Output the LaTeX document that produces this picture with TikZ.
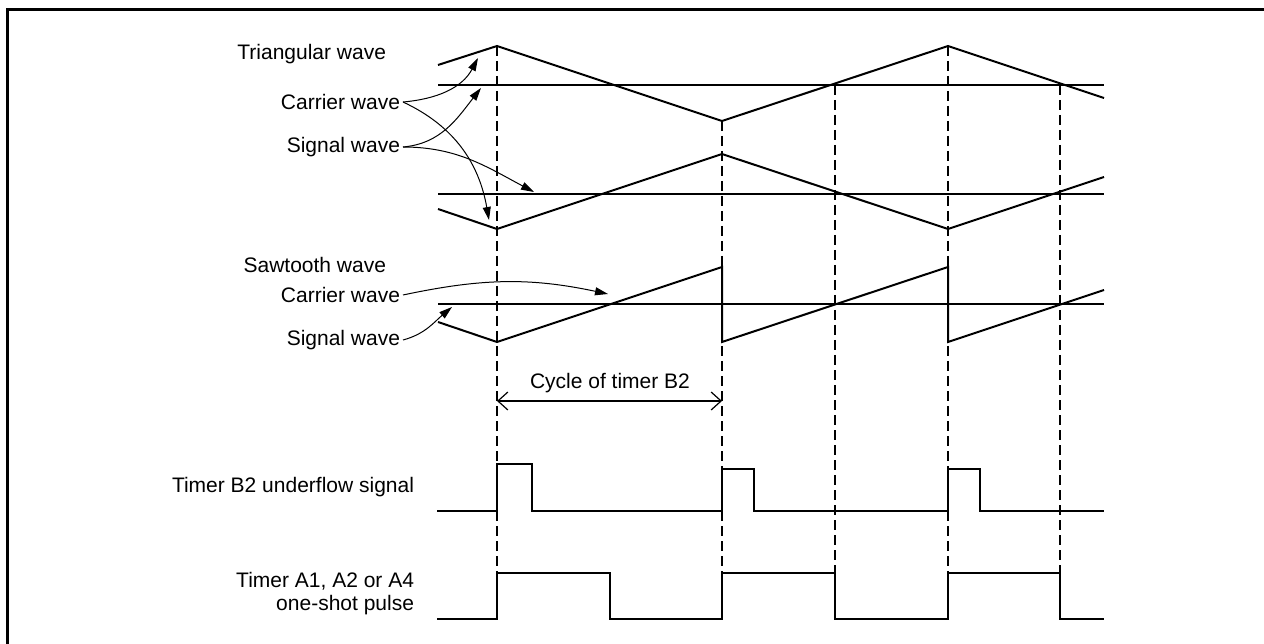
\documentclass[tikz,border=0pt]{standalone}
\usepackage{fontspec}
\setmainfont{Liberation Sans}
\usepackage{tikz}
\usetikzlibrary{arrows.meta,positioning}

\begin{document}
\begin{tikzpicture}[x=1pt,y=-1pt,
    lbl/.style={font=\fontsize{21}{23}\selectfont, inner sep=0pt, outer sep=3pt},
    wave/.style={line width=2pt, line join=miter},
    guide/.style={line width=1.6pt, dash pattern=on 10pt off 5pt},
    pointer/.style={line width=1pt, -{Triangle[length=13pt,width=8pt]}},
    span/.style={line width=1.2pt, {Straight Barb[length=10pt,width=18pt]}-{Straight Barb[length=10pt,width=18pt]}}
]
\useasboundingbox (0,0) rectangle (1264,644);

% --- frame ---
\draw[line width=3pt] (7,644) |- (1264,9.5);

% --- guide lines ---
\draw[guide] (497,46) -- (497,573);
\draw[guide] (722,121) -- (722,573);
\draw[guide] (948,46) -- (948,573);
\draw[guide] (835,85) -- (835,573);
\draw[guide] (1060,85) -- (1060,573);

% --- triangular wave ---
\draw[wave] (438,65) -- (497,46) -- (722,121) -- (948,46) -- (1104,98);
\draw[wave] (438,85) -- (1104,85);
\draw[wave] (438,209) -- (497,229) -- (722,154) -- (948,229) -- (1104,177);
\draw[wave] (438,194) -- (1104,194);

% --- sawtooth wave ---
\draw[wave] (438,322) -- (497,342) -- (722,267) -- (722,342) -- (948,267) -- (948,342) -- (1104,290);
\draw[wave] (438,304) -- (1104,304);

% --- timer B2 underflow signal ---
\draw[wave] (437,511) -- (497,511) -- (497,464) -- (532,464) -- (532,511) -- (722,511) -- (722,469)
    -- (754,469) -- (754,511) -- (948,511) -- (948,469) -- (980,469) -- (980,511) -- (1104,511);

% --- one-shot pulse ---
\draw[wave] (437,619) -- (497,619) -- (497,573) -- (610,573) -- (610,619) -- (722,619) -- (722,573)
    -- (835,573) -- (835,619) -- (948,619) -- (948,573) -- (1060,573) -- (1060,619) -- (1104,619);

% --- labels ---
\node[lbl, anchor=east] (tri) at (389,54) {Triangular wave};
\node[lbl, anchor=east] (tricar) at (403,102) {Carrier wave};
\node[lbl, anchor=east] (trisig) at (403,147) {Signal wave};
\node[lbl, anchor=east] (saw) at (389,265) {Sawtooth wave};
\node[lbl, anchor=east] (sawcar) at (403,295) {Carrier wave};
\node[lbl, anchor=east] (sawsig) at (403,340) {Signal wave};
\node[lbl, anchor=east] (ufl) at (417,487) {Timer B2 underflow signal};
\node[lbl, anchor=east, align=right] (osp) at (417,594) {Timer A1, A2 or A4\\one-shot pulse};
\node[lbl] (cyc) at (610,383) {Cycle of timer B2};

% --- pointer targets ---
\coordinate (t1) at (478,58);
\coordinate (t2) at (489,220);
\coordinate (t3) at (481,88);
\coordinate (t4) at (534,192);
\coordinate (t5) at (608,294);
\coordinate (t6) at (452,307);
\coordinate (cl) at (497,401);
\coordinate (cr) at (722,401);

% --- pointers ---
\draw[pointer] (tricar.east) to[out=5,in=-118] (t1);
\draw[pointer] (tricar.east) to[out=-25,in=100] (t2);
\draw[pointer] (trisig.east) to[out=5,in=-128] (t3);
\draw[pointer] (trisig.east) to[out=0,in=152] (t4);
\draw[pointer] (sawcar.east) to[out=12,in=168] (t5);
\draw[pointer] (sawsig.east) to[out=15,in=-140] (t6);
\draw[span] (cl) -- (cr);

\end{tikzpicture}
\end{document}
